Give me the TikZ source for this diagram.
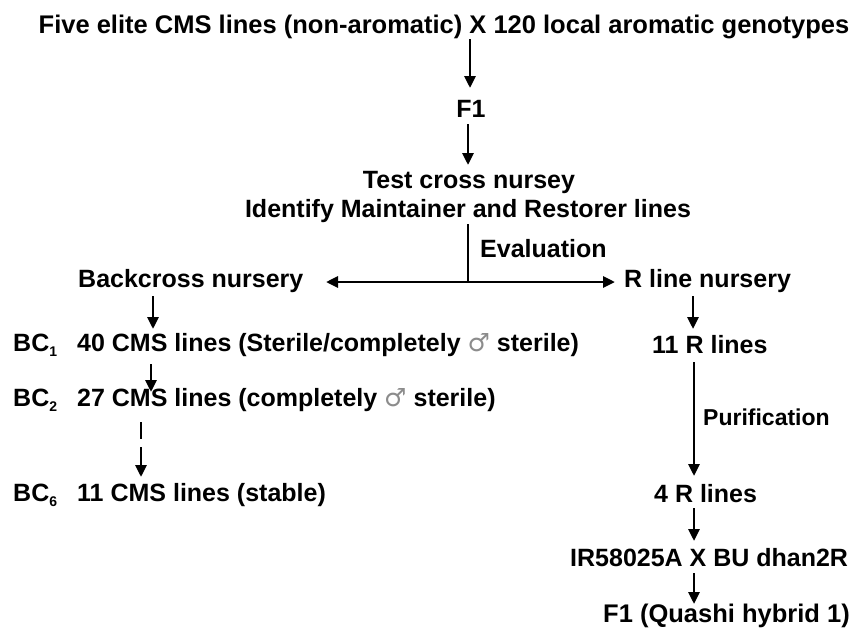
\documentclass[tikz,border=0pt]{standalone}
\usepackage{fontspec}
\setmainfont{Liberation Sans}
\newfontfamily\symfont{DejaVu Sans}
\usetikzlibrary{arrows.meta}
\newcommand{\mysub}[1]{\raisebox{-0.4ex}{\fontsize{14}{14}\selectfont #1}}
\newcommand{\malesym}{{\symfont\mdseries\color{black!45}♂}}
\begin{document}
\begin{tikzpicture}[x=1pt,y=-1pt,
  every node/.style={font=\bfseries\fontsize{25}{30}\selectfont, inner sep=0pt},
  smallfont/.style={font=\bfseries\fontsize{23}{28}\selectfont},
  bigfont/.style={font=\bfseries\fontsize{25.5}{30}\selectfont},
  arr/.style={line width=2.9pt, -{Triangle[length=12pt,width=11pt]}},
  plainline/.style={line width=2.9pt}]
\useasboundingbox (0,0) rectangle (859,635);
% nodes
\node[anchor=base, bigfont] (title) at (444,33) {Five elite CMS lines (non-aromatic) X 120 local aromatic genotypes};
\node[anchor=base] (f1) at (471,117) {F1};
\node[anchor=base] (test) at (469,188) {Test cross nursey};
\node[anchor=base] (ident) at (468,217) {Identify Maintainer and Restorer lines};
\node[anchor=base west] (eval) at (480,257) {Evaluation};
\node[anchor=base west] (back) at (78,287) {Backcross nursery};
\node[anchor=base west] (rline) at (624,287) {R line nursery};
\node[anchor=base west] (bc1) at (13,351) {BC\mysub{1}};
\node[anchor=base west] (l40) at (77,351) {40 CMS lines (Sterile/completely \malesym\ sterile)};
\node[anchor=base west] (bc2) at (13,406) {BC\mysub{2}};
\node[anchor=base west] (l27) at (77,406) {27 CMS lines (completely \malesym\ sterile)};
\node[anchor=base west] (bc6) at (13,501) {BC\mysub{6}};
\node[anchor=base west] (l11) at (77,501) {11 CMS lines (stable)};
\node[anchor=base west] (r11) at (652,353) {11 R lines};
\node[anchor=base west, smallfont] (pur) at (703,425) {Purification};
\node[anchor=base west] (r4) at (654,502) {4 R lines};
\node[anchor=base west] (ir) at (570,566) {IR58025A X BU dhan2R};
\node[anchor=base west, bigfont] (hyb) at (603,622) {F1 (Quashi hybrid 1)};
% connector end points
\coordinate (a1s) at (470,39);  \coordinate (a1e) at (470,88);
\coordinate (a2s) at (468,124); \coordinate (a2e) at (468,165);
\coordinate (vs) at (468,224);  \coordinate (junc) at (468,282);
\coordinate (lt) at (326,282);  \coordinate (rt) at (615,282);
\coordinate (b1s) at (153,296); \coordinate (b1e) at (153,329);
\coordinate (b2s) at (151,364); \coordinate (b2e) at (151,392);
\coordinate (d1s) at (141,422); \coordinate (d1e) at (141,439);
\coordinate (d2s) at (141,447); \coordinate (d2e) at (141,477);
\coordinate (r1s) at (693,296); \coordinate (r1e) at (693,329);
\coordinate (r2s) at (694,362); \coordinate (r2e) at (694,476);
\coordinate (r3s) at (694,508); \coordinate (r3e) at (694,541);
\coordinate (r4s) at (694,573); \coordinate (r4e) at (694,604);
% connectors
\draw[arr] (a1s) -- (a1e);
\draw[arr] (a2s) -- (a2e);
\draw[plainline] (vs) -- (junc);
\draw[arr] (junc) -- (lt);
\draw[arr] (junc) -- (rt);
\draw[arr] (b1s) -- (b1e);
\draw[arr] (b2s) -- (b2e);
\draw[plainline] (d1s) -- (d1e);
\draw[arr] (d2s) -- (d2e);
\draw[arr] (r1s) -- (r1e);
\draw[arr] (r2s) -- (r2e);
\draw[arr] (r3s) -- (r3e);
\draw[arr] (r4s) -- (r4e);
\end{tikzpicture}
\end{document}
